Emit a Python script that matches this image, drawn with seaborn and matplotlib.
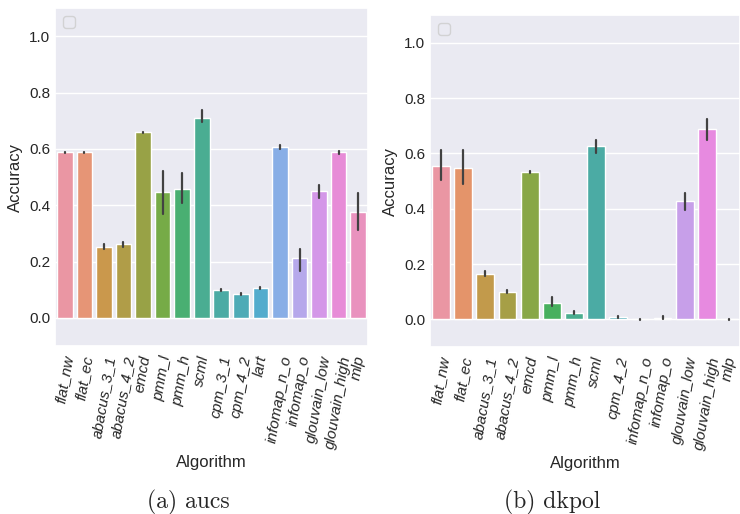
import numpy as np
import pandas as pd
import matplotlib
matplotlib.use("Agg")
import matplotlib.pyplot as plt
import seaborn as sns

# aucs: mean accuracy and the low / high ends of the error bars
aucs_algos = ['flat_nw', 'flat_ec', 'abacus_3_1', 'abacus_4_2', 'emcd', 'pmm_l', 'pmm_h',
              'scml', 'cpm_3_1', 'cpm_4_2', 'lart', 'infomap_n_o', 'infomap_o',
              'glouvain_low', 'glouvain_high', 'mlp']
aucs_mean = [0.587, 0.587, 0.253, 0.261, 0.658, 0.447, 0.457, 0.709, 0.098, 0.085, 0.106,
             0.605, 0.211, 0.450, 0.587, 0.374]
aucs_lo = [0.584, 0.584, 0.243, 0.251, 0.656, 0.368, 0.409, 0.694, 0.095, 0.082, 0.102,
           0.598, 0.166, 0.426, 0.581, 0.312]
aucs_hi = [0.590, 0.590, 0.263, 0.271, 0.660, 0.522, 0.514, 0.738, 0.101, 0.088, 0.110,
           0.612, 0.243, 0.473, 0.593, 0.442]

# dkpol
dkpol_algos = ['flat_nw', 'flat_ec', 'abacus_3_1', 'abacus_4_2', 'emcd', 'pmm_l', 'pmm_h',
               'scml', 'cpm_4_2', 'infomap_n_o', 'infomap_o', 'glouvain_low',
               'glouvain_high', 'mlp']
dkpol_mean = [0.556, 0.547, 0.164, 0.100, 0.532, 0.060, 0.024, 0.626, 0.008, 0.001, 0.006,
              0.427, 0.689, 0.001]
dkpol_lo = [0.502, 0.488, 0.155, 0.094, 0.529, 0.047, 0.019, 0.602, 0.005, -0.001, 0.000,
            0.396, 0.650, -0.001]
dkpol_hi = [0.612, 0.612, 0.176, 0.106, 0.535, 0.079, 0.029, 0.650, 0.011, 0.003, 0.012,
            0.458, 0.724, 0.003]

sns.set_theme(style="darkgrid", context="notebook",
              rc={"xtick.major.size": 0, "ytick.major.size": 0})
plt.rcParams['font.family'] = ['Liberation Sans', 'DejaVu Sans']


def long_frame(algos, mean, lo, hi):
    # three rows per algorithm: median = mean, min/max = error bar ends
    return pd.DataFrame({
        'Algorithm': list(algos) * 3,
        'Accuracy': list(lo) + list(mean) + list(hi),
    })


def draw(ax, algos, mean, lo, hi):
    df = long_frame(algos, mean, lo, hi)
    sns.barplot(data=df, x='Algorithm', y='Accuracy', hue='Algorithm', order=algos,
                hue_order=algos, palette=sns.husl_palette(len(algos), l=.7),
                legend=False, estimator=np.median, errorbar=('pi', 100),
                err_kws={'linewidth': 1.6}, ax=ax)
    ax.set_ylim(-0.1, 1.1)
    ax.set_yticks([0.0, 0.2, 0.4, 0.6, 0.8, 1.0])
    ax.tick_params(axis='x', labelrotation=80, pad=6)
    for lab in ax.get_xticklabels():
        lab.set_fontstyle('italic')
    ax.legend(handles=[], loc='upper left')


fig = plt.figure(figsize=(7.4, 5.14), dpi=100)
ax1 = fig.add_axes([55 / 740, 1 - 346 / 514, 313 / 740, 338 / 514])
ax2 = fig.add_axes([430 / 740, 1 - 347 / 514, 310 / 740, 332 / 514])

draw(ax1, aucs_algos, aucs_mean, aucs_lo, aucs_hi)
draw(ax2, dkpol_algos, dkpol_mean, dkpol_lo, dkpol_hi)

fig.text(188 / 740, 1 - 502 / 514, '(a) aucs', family='cmr10', fontsize=17,
         ha='center', va='center')
fig.text(552 / 740, 1 - 502 / 514, '(b) dkpol', family='cmr10', fontsize=17,
         ha='center', va='center')

fig.savefig('out.png', dpi=100)
